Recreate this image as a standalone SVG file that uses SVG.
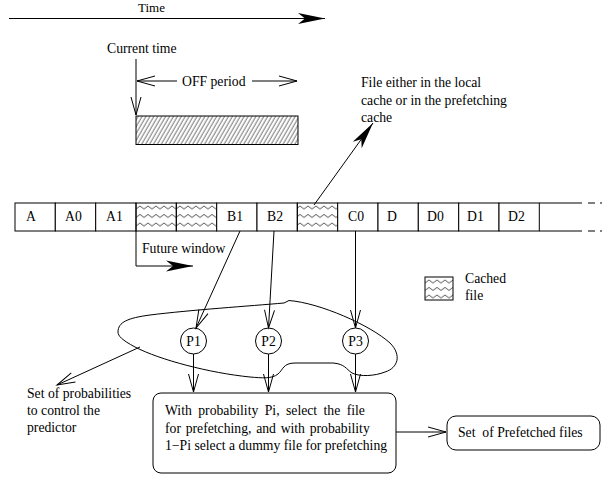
<svg xmlns="http://www.w3.org/2000/svg" width="602" height="479" viewBox="0 0 602 479">
  <style>
    text { font-family: "Liberation Serif", "Times New Roman", serif; font-size: 13.7px; fill: #000; }
    .ln { fill: none; stroke: #000; stroke-width: 1; }
    .cell { fill: #fff; stroke: #000; stroke-width: 1; }
    .mid { text-anchor: middle; }
  </style>
  <defs>
    <!-- open V arrowhead -->
    <marker id="open" markerUnits="userSpaceOnUse" markerWidth="30" markerHeight="14" viewBox="-20 -7 22 14" refX="0" refY="0" orient="auto" overflow="visible">
      <path d="M-18,-5 L0,0 L-18,5" fill="none" stroke="#000" stroke-width="1"/>
    </marker>
    <!-- filled stealth arrowhead -->
    <marker id="solid" markerUnits="userSpaceOnUse" markerWidth="30" markerHeight="14" viewBox="-28 -7 30 14" refX="0" refY="0" orient="auto" overflow="visible">
      <path d="M0,0 L-27,-5.5 L-20,0 L-27,5.5 Z" fill="#000" stroke="none"/>
    </marker>
    <!-- diagonal hatching -->
    <pattern id="hatch" patternUnits="userSpaceOnUse" width="3.4" height="10" patternTransform="rotate(30)">
      <line x1="1" y1="0" x2="1" y2="10" stroke="#444" stroke-width="0.8"/>
    </pattern>
    <!-- wavy fill for cached files -->
    <pattern id="wave" patternUnits="userSpaceOnUse" x="0" y="203" width="8" height="8.5">
      <path d="M0,6 L4,3 L8,6" fill="none" stroke="#000" stroke-width="0.7"/>
    </pattern>
    <pattern id="wave2" patternUnits="userSpaceOnUse" x="425" y="277" width="8" height="7.5">
      <path d="M0,6 L4,3 L8,6" fill="none" stroke="#000" stroke-width="0.7"/>
    </pattern>
  </defs>

  <!-- time axis -->
  <g id="time-axis">
    <text x="138" y="12" style="font-size:13px">Time</text>
    <line class="ln" x1="9" y1="18.5" x2="325" y2="18.5" marker-end="url(#solid)"/>
  </g>

  <!-- current time and OFF period -->
  <g id="current-time">
    <text x="107" y="53">Current time</text>
  </g>
  <g id="off-period">
    <text x="182" y="86">OFF period</text>
    <rect x="136" y="116" width="162" height="28.5" fill="url(#hatch)" stroke="#000" stroke-width="1"/>
  </g>

  <!-- file sequence -->
  <g id="file-row">
    <rect class="cell" x="15" y="203" width="40.3" height="28"/>
    <rect class="cell" x="55.3" y="203" width="40.4" height="28"/>
    <rect class="cell" x="95.7" y="203" width="40.3" height="28"/>
    <rect x="136" y="203" width="40.3" height="28" fill="url(#wave)" stroke="#000"/>
    <rect x="176.3" y="203" width="40.4" height="28" fill="url(#wave)" stroke="#000"/>
    <rect class="cell" x="216.7" y="203" width="40.3" height="28"/>
    <rect class="cell" x="257" y="203" width="40.3" height="28"/>
    <rect x="297.3" y="203" width="40.4" height="28" fill="url(#wave)" stroke="#000"/>
    <rect class="cell" x="337.7" y="203" width="40.3" height="28"/>
    <rect class="cell" x="378" y="203" width="40.3" height="28"/>
    <rect class="cell" x="418.3" y="203" width="40.4" height="28"/>
    <rect class="cell" x="458.7" y="203" width="40.3" height="28"/>
    <rect class="cell" x="499" y="203" width="40.3" height="28"/>
    <path class="ln" d="M539.3,203 H582 M539.3,231 H582 M588,203 H595 M588,231 H595 M600,203 H602 M600,231 H602"/>
    <text x="26" y="221">A</text>
    <text x="65" y="221">A0</text>
    <text x="106" y="221">A1</text>
    <text x="227" y="221">B1</text>
    <text x="267" y="221">B2</text>
    <text x="348" y="221">C0</text>
    <text x="387" y="221">D</text>
    <text x="427" y="221">D0</text>
    <text x="467" y="221">D1</text>
    <text x="508" y="221">D2</text>
  </g>

  <g id="future-window">
    <text x="142" y="253">Future window</text>
  </g>

  <g id="cache-note">
    <text x="361" y="87">File either in the local</text>
    <text x="361" y="104.5">cache or in the prefetching</text>
    <text x="361" y="122">cache</text>
  </g>

  <g id="legend">
    <rect x="425" y="277" width="28" height="23" fill="url(#wave2)" stroke="#000"/>
    <text x="465" y="283">Cached</text>
    <text x="465" y="300">file</text>
  </g>

  <!-- predictor probabilities -->
  <g id="predictor">
    <path class="ln" d="M118,332 C118,322 128,318 150,315 C190,310 250,306 284,303 L289,300.5 C320,303 370,325 390,343 C402,355 398,368 385,372 C375,376 360,377 352,373 C346,369 345,364 333,363 L295,363 C283,363 283,370 278,374 C272,379 262,378 250,377 C210,373 160,360 135,347 C122,340 118,336 118,332 Z"/>
  </g>
  <g id="P1">
    <circle class="cell" cx="193.5" cy="341" r="13"/>
    <text class="mid" x="193.5" y="346">P1</text>
  </g>
  <g id="P2">
    <circle class="cell" cx="268.5" cy="341" r="13"/>
    <text class="mid" x="268.5" y="346">P2</text>
  </g>
  <g id="P3">
    <circle class="cell" cx="355.5" cy="341" r="13"/>
    <text class="mid" x="355.5" y="346">P3</text>
  </g>

  <g id="prob-label">
    <text x="27" y="398">Set of probabilities</text>
    <text x="27" y="415">to control the</text>
    <text x="27" y="431.5">predictor</text>
  </g>

  <g id="selector">
    <rect class="cell" x="153" y="393" width="243" height="80" rx="8"/>
    <text x="165" y="415" style="word-spacing:3px">With probability Pi, select the file</text>
    <text x="165" y="432.5" style="word-spacing:1.3px">for prefetching, and with probability</text>
    <text x="165" y="450">1−Pi select a dummy file for prefetching</text>
  </g>

  <g id="prefetched">
    <rect class="cell" x="447" y="416" width="153" height="34" rx="9"/>
    <text x="458" y="437" style="white-space:pre">Set  of Prefetched files</text>
  </g>

  <!-- connectors -->
  <g id="connectors">
    <line class="ln" x1="136" y1="59" x2="136" y2="115" marker-end="url(#open)"/>
    <line class="ln" x1="177" y1="81" x2="137" y2="81" marker-end="url(#open)"/>
    <line class="ln" x1="252" y1="81" x2="297" y2="81" marker-end="url(#open)"/>
    <line class="ln" x1="314" y1="205" x2="373" y2="123" marker-end="url(#solid)"/>
    <polyline class="ln" points="136,231 136,266 193,266" marker-end="url(#solid)"/>
    <line class="ln" x1="240" y1="231" x2="196" y2="328" marker-end="url(#open)"/>
    <line class="ln" x1="274" y1="231" x2="268.5" y2="328" marker-end="url(#open)"/>
    <line class="ln" x1="355.5" y1="231" x2="355.5" y2="328" marker-end="url(#open)"/>
    <line class="ln" x1="193.5" y1="354" x2="193.5" y2="392" marker-end="url(#open)"/>
    <line class="ln" x1="268.5" y1="354" x2="268.5" y2="392" marker-end="url(#open)"/>
    <line class="ln" x1="355.5" y1="354" x2="355.5" y2="392" marker-end="url(#open)"/>
    <line class="ln" x1="140" y1="347" x2="57" y2="385" marker-end="url(#open)"/>
    <line class="ln" x1="396" y1="432" x2="446" y2="432" marker-end="url(#open)"/>
  </g>
</svg>
